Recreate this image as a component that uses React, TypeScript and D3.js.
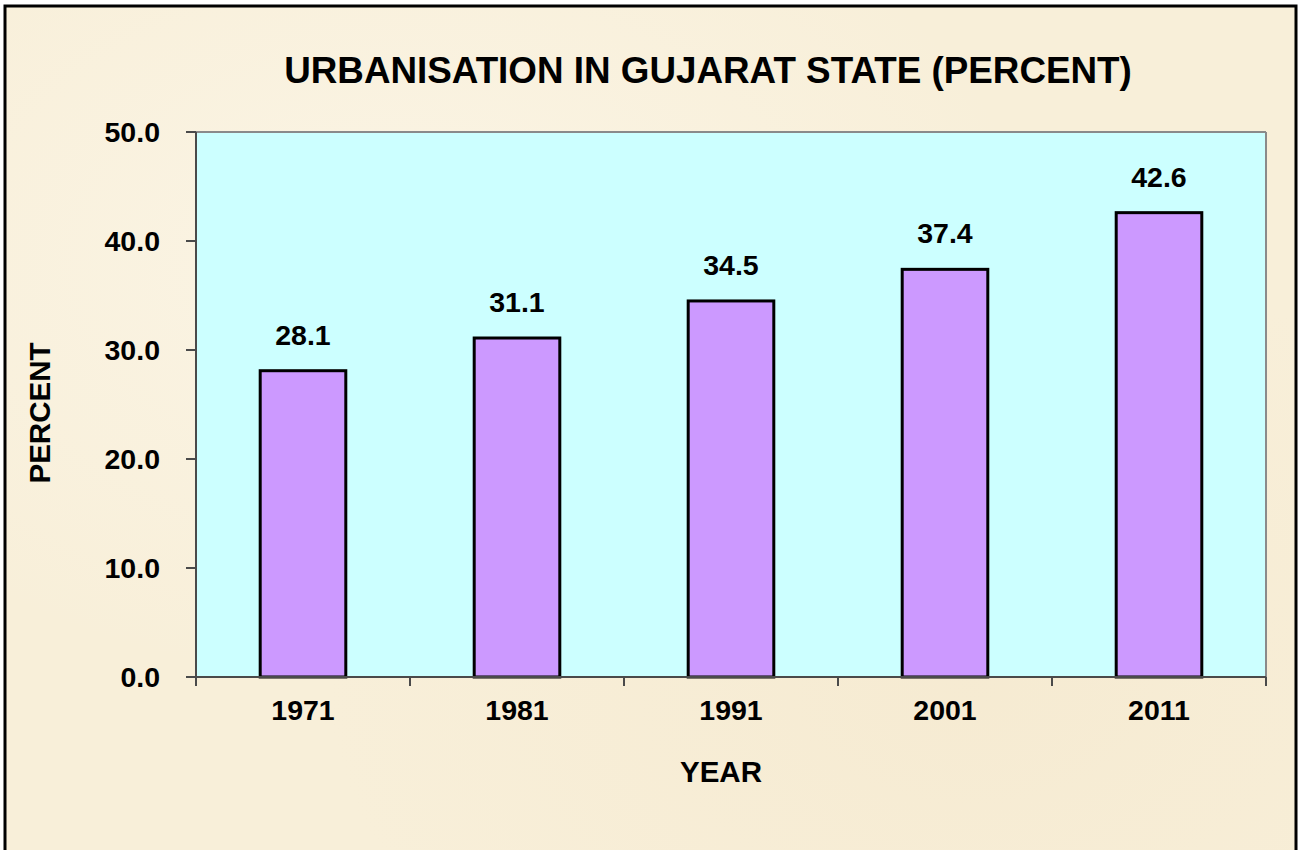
import React from "react";
import * as d3 from "d3";

const years = ["1971", "1981", "1991", "2001", "2011"];
const urbanPercent = [28.1, 31.1, 34.5, 37.4, 42.6];
const yTicks = [0, 10, 20, 30, 40, 50];

const W = 1299;
const H = 850;
const plot = { left: 196, right: 1266, top: 132, bottom: 677 };
const FONT = "Arial, 'Liberation Sans', Helvetica, sans-serif";

export default function App() {
  const x = d3.scaleBand<string>().domain(years).range([plot.left, plot.right]).padding(0);
  const y = d3.scaleLinear().domain([0, 50]).range([plot.bottom, plot.top]);
  const barW = x.bandwidth() * 0.4;
  const boundaries = d3.range(years.length + 1).map((i) => plot.left + i * x.step());

  return (
    <div style={{ position: "absolute", left: 0, top: 0 }}>
      <svg width={W} height={H} style={{ display: "block" }}>
        <defs>
          <radialGradient id="blot1" cx="0.3" cy="0.3" r="0.5">
            <stop offset="0" stopColor="#FBF5E6" stopOpacity="0.9" />
            <stop offset="1" stopColor="#FBF5E6" stopOpacity="0" />
          </radialGradient>
          <radialGradient id="blot2" cx="0.75" cy="0.8" r="0.5">
            <stop offset="0" stopColor="#F5E9CF" stopOpacity="0.7" />
            <stop offset="1" stopColor="#F5E9CF" stopOpacity="0" />
          </radialGradient>
        </defs>
        <rect x={0} y={0} width={W} height={H} fill="#FFFFFF" />
        <rect x={5} y={6} width={1291} height={850} fill="#F8EFD9" />
        <rect x={5} y={6} width={1291} height={850} fill="url(#blot1)" />
        <rect x={5} y={6} width={1291} height={850} fill="url(#blot2)" />
        <rect x={5} y={6} width={1291} height={850} fill="none" stroke="#000" strokeWidth={3} />

        <text
          x={708}
          y={83}
          textAnchor="middle"
          fontFamily={FONT}
          fontWeight="bold"
          fontSize={36.8}
          fill="#000"
        >
          URBANISATION IN GUJARAT STATE (PERCENT)
        </text>

        {/* plot area */}
        <rect
          x={plot.left}
          y={plot.top}
          width={plot.right - plot.left}
          height={plot.bottom - plot.top}
          fill="#CCFFFF"
        />
        <line x1={plot.left} y1={plot.top} x2={plot.right} y2={plot.top} stroke="#8A8A8A" strokeWidth={2} />
        <line x1={plot.right} y1={plot.top} x2={plot.right} y2={plot.bottom} stroke="#8A8A8A" strokeWidth={2} />

        {/* bars */}
        {years.map((yr, i) => {
          const cx = (x(yr) as number) + x.bandwidth() / 2;
          const v = urbanPercent[i];
          return (
            <g key={yr}>
              <rect
                x={cx - barW / 2}
                y={y(v)}
                width={barW}
                height={y(0) - y(v)}
                fill="#CC99FF"
                stroke="#000"
                strokeWidth={3}
              />
              <text
                x={cx}
                y={y(v) - 26}
                textAnchor="middle"
                fontFamily={FONT}
                fontWeight="bold"
                fontSize={28.5}
                fill="#000"
              >
                {v.toFixed(1)}
              </text>
              <text
                x={cx}
                y={720}
                textAnchor="middle"
                fontFamily={FONT}
                fontWeight="bold"
                fontSize={28.5}
                fill="#000"
              >
                {yr}
              </text>
            </g>
          );
        })}

        {/* y axis */}
        <line x1={plot.left} y1={plot.top} x2={plot.left} y2={plot.bottom} stroke="#4A4A4A" strokeWidth={2} />
        {yTicks.map((t) => (
          <g key={t}>
            <line x1={plot.left - 10} x2={plot.left} y1={y(t)} y2={y(t)} stroke="#4A4A4A" strokeWidth={2} />
            <text
              x={160}
              y={y(t) + 10}
              textAnchor="end"
              fontFamily={FONT}
              fontWeight="bold"
              fontSize={28.5}
              fill="#000"
            >
              {t.toFixed(1)}
            </text>
          </g>
        ))}

        {/* x axis */}
        <line x1={plot.left} y1={plot.bottom} x2={plot.right} y2={plot.bottom} stroke="#4A4A4A" strokeWidth={2} />
        {boundaries.map((bx, i) => (
          <line key={i} x1={bx} x2={bx} y1={plot.bottom} y2={plot.bottom + 9} stroke="#4A4A4A" strokeWidth={2} />
        ))}

        <text
          x={721}
          y={782}
          textAnchor="middle"
          fontFamily={FONT}
          fontWeight="bold"
          fontSize={29.5}
          fill="#000"
        >
          YEAR
        </text>
        <text
          transform={`translate(50,413) rotate(-90)`}
          textAnchor="middle"
          fontFamily={FONT}
          fontWeight="bold"
          fontSize={29.5}
          fill="#000"
        >
          PERCENT
        </text>
      </svg>
    </div>
  );
}
